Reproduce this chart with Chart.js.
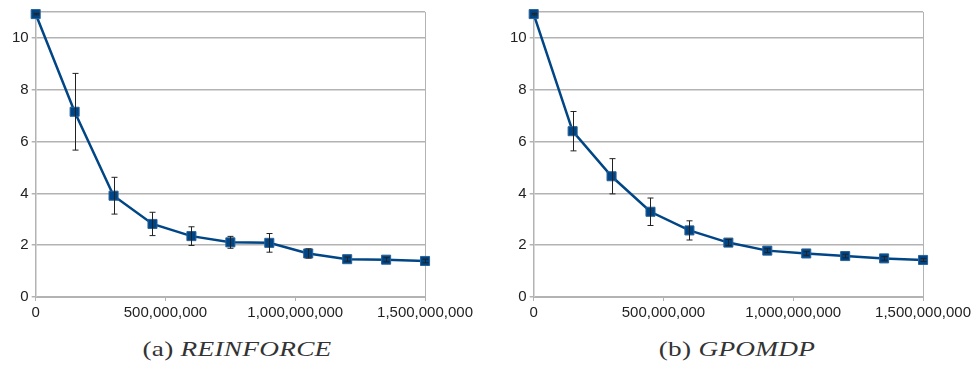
<!DOCTYPE html>
<html>
<head>
<meta charset="utf-8">
<script src="https://cdn.jsdelivr.net/npm/chart.js@4/dist/chart.umd.min.js"></script>
<style>
  body { margin: 0; background: #fff; width: 972px; height: 369px; position: relative; overflow: hidden; }
  .box { position: absolute; top: 0; width: 476px; height: 327px; }
  .cap { position: absolute; top: 337px; width: 300px; text-align: center;
         font-family: "Liberation Serif", serif; font-size: 21px; color: #333;
         transform: scaleX(1.3); letter-spacing: 0.2px; }
</style>
</head>
<body>
<div class="box" style="left:0px"><canvas id="c1"></canvas></div>
<div class="box" style="left:498px"><canvas id="c2"></canvas></div>
<div class="cap" style="left:87px">(a) <i>REINFORCE</i></div>
<div class="cap" style="left:587px">(b) <i>GPOMDP</i></div>
<script>
// samples seen (x) and mean / half-width of error bar (y)
var steps = [0, 150000000, 300000000, 450000000, 600000000, 750000000,
             900000000, 1050000000, 1200000000, 1350000000, 1500000000];
var reinforceMean = [10.92, 7.15, 3.91, 2.82, 2.35, 2.11, 2.09, 1.68, 1.46, 1.44, 1.39];
var reinforceErr  = [0.03, 1.48, 0.71, 0.45, 0.36, 0.23, 0.36, 0.18, 0.08, 0.08, 0.07];
var gpomdpMean    = [10.92, 6.40, 4.66, 3.29, 2.57, 2.10, 1.79, 1.68, 1.58, 1.49, 1.43];
var gpomdpErr     = [0.03, 0.76, 0.68, 0.53, 0.37, 0.12, 0.07, 0.07, 0.07, 0.07, 0.06];
var yTicks = [0, 2, 4, 6, 8, 10];

var blue = "#004586";
var grid = "#b3b3b3";

// error bars drawn on top of the line, positions from the chart scales
var errorBars = {
	id: "errorBars",
	afterDatasetsDraw: function(chart) {
		var ctx = chart.ctx;
		var xs = chart.scales.x, ys = chart.scales.y;
		var ds = chart.data.datasets[0];
		var errs = chart.options.plugins.errorBars.errors;
		ctx.save();
		ctx.strokeStyle = "#222";
		ctx.lineWidth = 1;
		for (var i = 0; i < ds.data.length; i++) {
			var p = ds.data[i];
			var px = Math.round(xs.getPixelForValue(p.x)) + 0.5;
			var top = ys.getPixelForValue(p.y + errs[i]);
			var bot = ys.getPixelForValue(p.y - errs[i]);
			ctx.beginPath();
			ctx.moveTo(px, top); ctx.lineTo(px, bot);
			ctx.moveTo(px - 3, top); ctx.lineTo(px + 3, top);
			ctx.moveTo(px - 3, bot); ctx.lineTo(px + 3, bot);
			ctx.stroke();
		}
		ctx.restore();
	}
};

function makeChart(id, means, errs) {
	var pts = [];
	for (var i = 0; i < steps.length; i++) pts.push({x: steps[i], y: means[i]});
	return new Chart(document.getElementById(id).getContext("2d"), {
		type: "line",
		data: {
			datasets: [{
				data: pts,
				borderColor: blue,
				backgroundColor: blue,
				borderWidth: 2.5,
				pointStyle: "rect",
				pointRadius: 6.4,
				pointBorderWidth: 1,
				pointBorderColor: "#2a6399",
				pointBackgroundColor: blue,
				tension: 0,
				clip: false
			}]
		},
		options: {
			animation: false,
			responsive: true,
			maintainAspectRatio: false,
			layout: { padding: { left: 9, top: 10, right: 0, bottom: 2 } },
			plugins: {
				legend: { display: false },
				tooltip: { enabled: false },
				errorBars: { errors: errs }
			},
			scales: {
				x: {
					type: "linear",
					min: 0, max: 1500000000,
					ticks: {
						stepSize: 500000000,
						maxRotation: 0,
						padding: 3,
						color: "#222",
						font: { family: "Liberation Sans", size: 15 },
						callback: function(v) { return v.toLocaleString("en-US"); }
					},
					grid: {
						color: function(c) { return c.tick && c.tick.value === 1500000000 ? grid : "rgba(0,0,0,0)"; },
						tickColor: grid,
						tickLength: 4,
						lineWidth: 1
					},
					border: { color: grid, width: 1 }
				},
				y: {
					min: 0, max: 11,
					afterBuildTicks: function(axis) {
						axis.ticks = yTicks.concat([11]).map(function(v) { return {value: v}; });
					},
					ticks: {
						padding: 3,
						color: "#222",
						font: { family: "Liberation Sans", size: 15 },
						callback: function(v) { return v === 11 ? "" : v; }
					},
					grid: {
						color: grid,
						tickColor: function(c) { return c.tick && c.tick.value === 11 ? "rgba(0,0,0,0)" : grid; },
						tickLength: 4,
						lineWidth: 1.5
					},
					border: { color: grid, width: 1.5 }
				}
			}
		},
		plugins: [errorBars]
	});
}

makeChart("c1", reinforceMean, reinforceErr);
makeChart("c2", gpomdpMean, gpomdpErr);
</script>
</body>
</html>
